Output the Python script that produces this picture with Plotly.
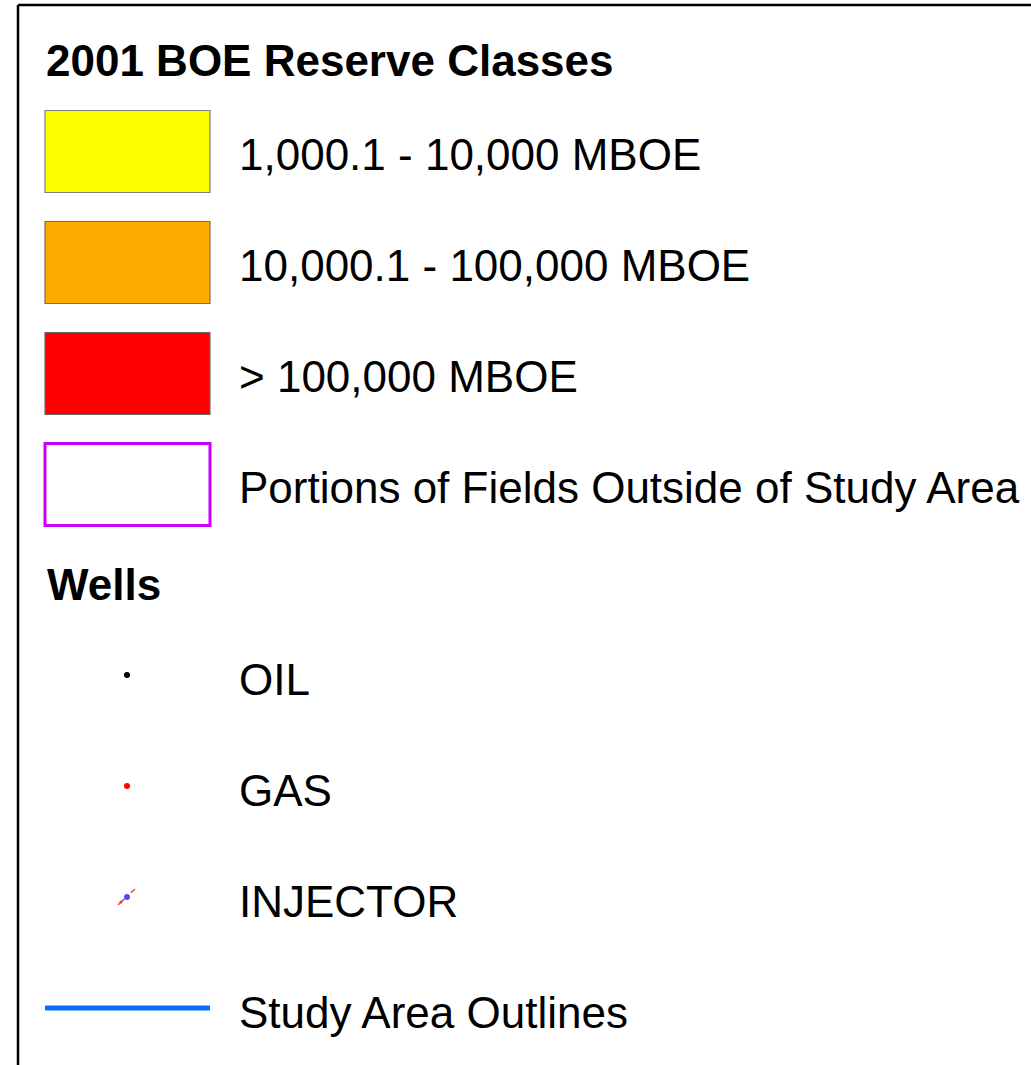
import plotly.graph_objects as go

W, H = 1031, 1065

title = "2001 BOE Reserve Classes"
class_labels = ["1,000.1 - 10,000 MBOE", "10,000.1 - 100,000 MBOE", "> 100,000 MBOE",
                "Portions of Fields Outside of Study Area"]
class_fill = ["#FFFF00", "#FFAA00", "#FF0000", "#FFFFFF"]
class_edge = ["#808080", "#707070", "#6A6A6A", "#CC00FF"]
wells_title = "Wells"
well_labels = ["OIL", "GAS", "INJECTOR"]
well_colors = ["#000000", "#FF0000", "#0000FF"]
line_label = "Study Area Outlines"
line_color = "#0A6CFF"

FONT = "Liberation Sans, Arial, sans-serif"
FS = 44

fig = go.Figure()
shapes = []
annotations = []

# frame (top and left edges)
shapes.append(dict(type="line", x0=18, x1=W + 5, y0=5, y1=5, xref="x", yref="y",
                   line=dict(color="black", width=2.5)))
shapes.append(dict(type="line", x0=18, x1=18, y0=5, y1=H + 5, xref="x", yref="y",
                   line=dict(color="black", width=2.5)))

annotations.append(dict(x=44, y=60, text="<b>%s</b>" % title, xanchor="left", yanchor="middle",
                        showarrow=False, font=dict(family=FONT, size=FS, color="black")))

row0, step = 151.5, 111
for i, (lab, fc, ec) in enumerate(zip(class_labels, class_fill, class_edge)):
    yc = row0 + i * step
    lw = 3 if i == 3 else 1.2
    shapes.append(dict(type="rect", x0=45, x1=210, y0=yc - 41, y1=yc + 41, xref="x", yref="y",
                       fillcolor=fc, line=dict(color=ec, width=lw)))
    annotations.append(dict(x=237, y=yc + 3, text=lab, xanchor="left", yanchor="middle",
                            showarrow=False, font=dict(family=FONT, size=FS, color="black")))

annotations.append(dict(x=45, y=584, text="<b>%s</b>" % wells_title, xanchor="left", yanchor="middle",
                        showarrow=False, font=dict(family=FONT, size=FS, color="black")))

wrow0 = 675
for i, (lab, c) in enumerate(zip(well_labels, well_colors)):
    yc = wrow0 + i * 111
    annotations.append(dict(x=237, y=yc + 4, text=lab, xanchor="left", yanchor="middle",
                            showarrow=False, font=dict(family=FONT, size=FS, color="black")))
    if i < 2:
        fig.add_trace(go.Scatter(x=[127], y=[yc], mode="markers",
                                 marker=dict(color=c, size=6, line=dict(width=0)),
                                 showlegend=False, hoverinfo="skip"))
    else:
        # injector symbol: blue dot with small red dashes
        shapes.append(dict(type="line", x0=118, x1=135, y0=yc + 8, y1=yc - 8, xref="x", yref="y",
                           line=dict(color="#FF4040", width=1.5, dash="dash")))
        fig.add_trace(go.Scatter(x=[127, 121], y=[yc, yc + 5], mode="markers",
                                 marker=dict(color=c, size=[6, 3], line=dict(width=0)),
                                 showlegend=False, hoverinfo="skip"))

yl = 1008
shapes.append(dict(type="line", x0=45, x1=210, y0=yl, y1=yl, xref="x", yref="y",
                   line=dict(color=line_color, width=5)))
annotations.append(dict(x=237, y=yl + 4, text=line_label, xanchor="left", yanchor="middle",
                        showarrow=False, font=dict(family=FONT, size=FS, color="black")))

fig.update_layout(
    width=W, height=H, margin=dict(l=0, r=0, t=0, b=0),
    paper_bgcolor="white", plot_bgcolor="white",
    xaxis=dict(range=[0, W], visible=False, fixedrange=True),
    yaxis=dict(range=[H, 0], visible=False, fixedrange=True),
    shapes=shapes, annotations=annotations, showlegend=False,
)

fig.write_html("out.html", config={"displayModeBar": False},
               post_script="document.body.style.margin='0';document.body.style.overflow='hidden';")
